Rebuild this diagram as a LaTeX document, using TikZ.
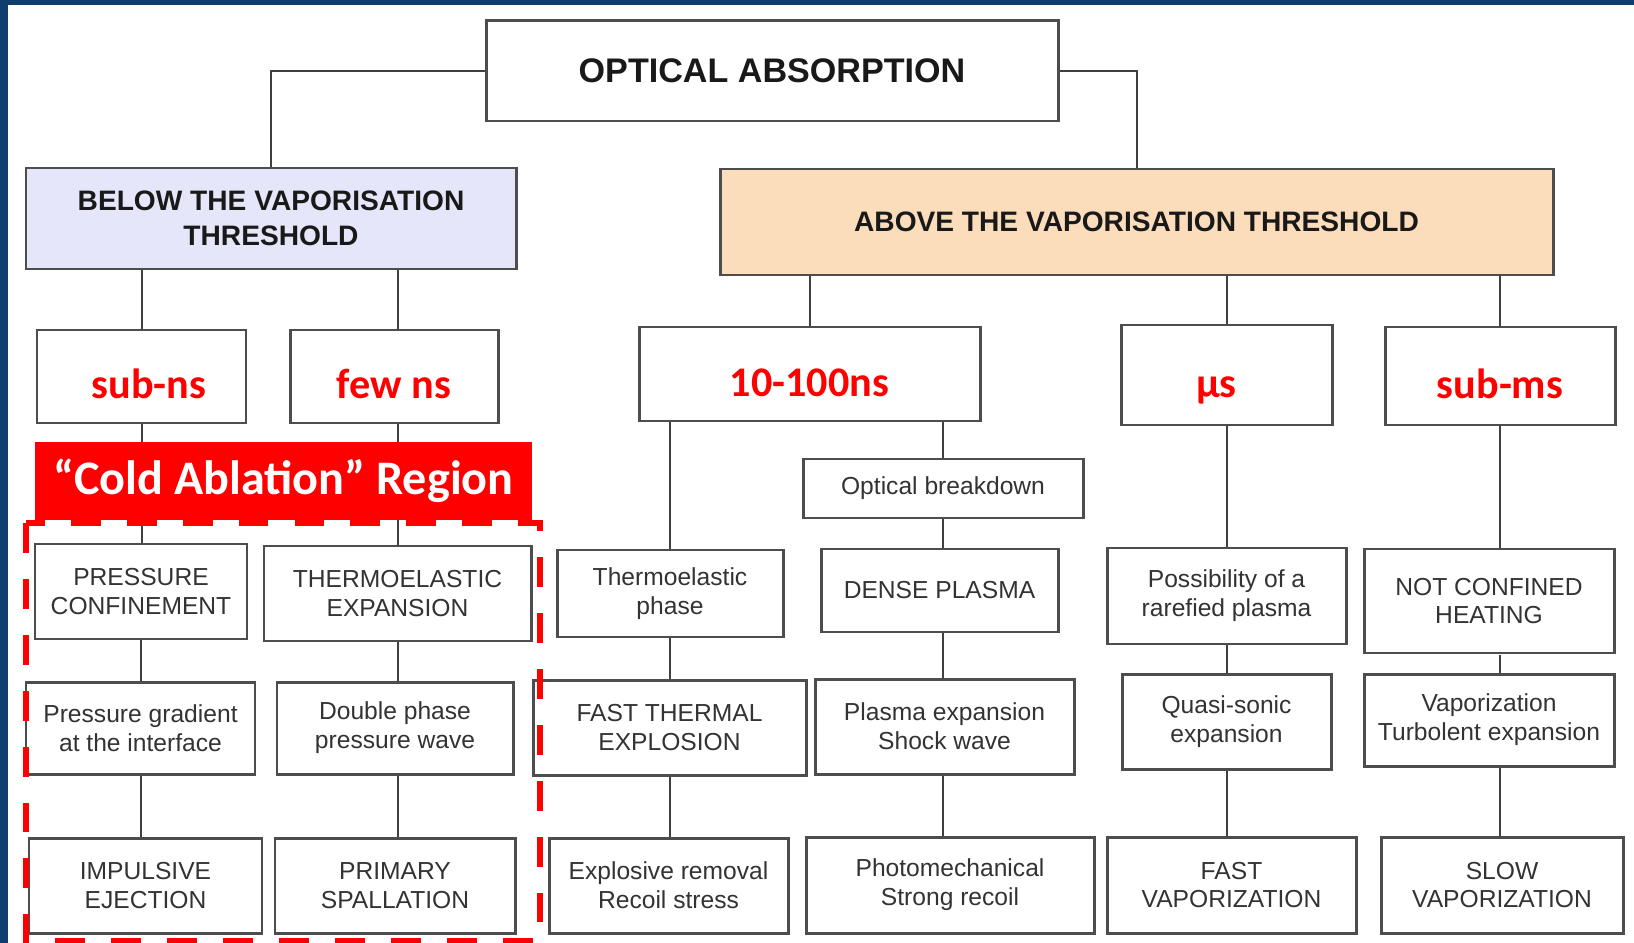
\documentclass[tikz,border=0pt]{standalone}
\usepackage{fontspec}
\setmainfont{Liberation Sans}
\newfontfamily\calib{Carlito}
\definecolor{slideblue}{HTML}{0F3D6E}
\definecolor{boxline}{HTML}{4D4D4D}
\definecolor{boxtext}{HTML}{333333}
\definecolor{belowfill}{HTML}{E6E6FA}
\definecolor{abovefill}{HTML}{FCDDBB}
\begin{document}
\begin{tikzpicture}[x=.01cm,y=-.01cm,
    wh/.style 2 args={minimum width=#1*.01cm,minimum height=#2*.01cm},
    box/.style={draw=boxline,line width=.85pt,fill=white,inner sep=0pt,align=center,
        text=boxtext,font=\fontsize{7}{8.2}\selectfont},
    hdr/.style={box,text=black!90,font=\bfseries\fontsize{8}{9.8}\selectfont},
    tbox/.style={box,text=red,text height=.44cm,text depth=0pt,
        font=\calib\bfseries\fontsize{12}{14}\selectfont},
    link/.style={draw=black!75,line width=.57pt},
    ]
    \useasboundingbox (0,0) rectangle (1634,943);
    \fill[slideblue] (0,0) rectangle (1634,943);
    \fill[white] (8,5) rectangle (1634,943);
    \path
    (772,71) node[hdr,wh={572}{100},font=\bfseries\fontsize{9.7}{11.6}\selectfont] (oa) {OPTICAL ABSORPTION} % <<< hàng 1
    (271,218.5) node[hdr,wh={490}{101},fill=belowfill] (below) {BELOW THE VAPORISATION\\THRESHOLD} % <<< hàng 2
    (1136.5,222) node[hdr,wh={833}{106},fill=abovefill] (above) {ABOVE THE VAPORISATION THRESHOLD}
    (141.5,376.5) node[tbox,wh={209}{93}] (subns) {\hspace*{.15cm}sub-ns} % <<< hàng 3
    (394,376.5) node[tbox,wh={208}{93}] (fewns) {few ns}
    (809.5,374) node[tbox,wh={341}{94}] (tens) {10-100ns}
    (1226.5,375) node[tbox,wh={211}{100}] (mus) {µs\hspace*{.2cm}}
    (1500,376) node[tbox,wh={230}{98}] (subms) {sub-ms}
    (943,488.5) node[box,wh={280}{59}] (ob) {Optical breakdown}
    (141,591.5) node[box,wh={212}{95}] (pc) {PRESSURE\\CONFINEMENT} % <<< hàng 4
    (397.5,593.5) node[box,wh={267}{95}] (te) {THERMOELASTIC\\EXPANSION}
    (670,593.5) node[box,wh={226}{87}] (tp) {Thermoelastic\\phase}
    (939.5,590.5) node[box,wh={237}{83}] (dp) {DENSE PLASMA}
    (1226.5,596) node[box,wh={239}{96}] (rp) {Possibility of a\\rarefied plasma}
    (1489,601) node[box,wh={250}{104}] (nc) {NOT CONFINED\\HEATING}
    (140.5,728) node[box,wh={229}{92}] (pg) {Pressure gradient\\at the interface} % <<< hàng 5
    (395,728) node[box,wh={236}{92}] (dph) {Double phase\\pressure wave}
    (669.5,727.5) node[box,wh={273}{95}] (fte) {FAST THERMAL\\EXPLOSION}
    (944.5,726.5) node[box,wh={259}{95}] (pe) {Plasma expansion\\Shock wave}
    (1226.5,721.5) node[box,wh={209}{95}] (qs) {Quasi-sonic\\expansion}
    (1489,720) node[box,wh={250}{92}] (vt) {Vaporization\\Turbolent expansion}
    (145.5,885.5) node[box,wh={233}{95}] (ie) {IMPULSIVE\\EJECTION} % <<< hàng 6
    (395,885.5) node[box,wh={240}{95}] (ps) {PRIMARY\\SPALLATION}
    (668.5,885.5) node[box,wh={239}{95}] (er) {Explosive removal\\Recoil stress}
    (950,885) node[box,wh={288}{96}] (pm) {Photomechanical\\Strong recoil}
    (1231.5,885) node[box,wh={249}{96}] (fv) {FAST\\VAPORIZATION}
    (1502,885) node[box,wh={242}{96}] (sv) {SLOW\\VAPORIZATION};
    % nối
    \draw[link] (oa.west) -| (below.north);
    \draw[link] (oa.east) -| (above.north);
    \draw[link] (below.south -| subns) -- (subns.north);
    \draw[link] (below.south -| te) -- (fewns.north -| te);
    \draw[link] (above.south -| tens) -- (tens.north);
    \draw[link] (above.south -| mus) -- (mus.north);
    \draw[link] (above.south -| subms) -- (subms.north);
    \draw[link] (subns.south) -- (subns.south |- pc.north);
    \draw[link] (pc.south) -- (pc.south |- pg.north);
    \draw[link] (pg.south) -- (pg.south |- ie.north);
    \draw[link] (fewns.south -| te) -- (te.north);
    \draw[link] (te.south) -- (te.south |- dph.north);
    \draw[link] (dph.south -| te) -- (ps.north -| te);
    \draw[link] (tp.north |- tens.south) -- (tp.north);
    \draw[link] (tp.south) -- (tp.south |- fte.north);
    \draw[link] (fte.south -| tp) -- (er.north -| tp);
    \draw[link] (ob.north |- tens.south) -- (ob.north);
    \draw[link] (ob.south) -- (ob.south |- dp.north);
    \draw[link] (dp.south -| ob) -- (pe.north -| ob);
    \draw[link] (pe.south -| ob) -- (pm.north -| ob);
    \draw[link] (mus.south) -- (mus.south |- rp.north);
    \draw[link] (rp.south) -- (rp.south |- qs.north);
    \draw[link] (qs.south) -- (qs.south |- fv.north);
    \draw[link] (subms.south) -- (subms.south |- nc.north);
    \draw[link] (nc.south -| subms) -- (vt.north -| subms);
    \draw[link] (vt.south -| subms) -- (sv.north -| subms);
    % vùng đỏ
    \draw[red,line width=.06cm,dash pattern=on 8.5pt off 7.4pt] (26,523) rectangle (540,941);
    \path (283.5,481) node[fill=red,text=white,inner sep=0pt,wh={497}{78},
        font=\calib\bfseries\fontsize{13.7}{16}\selectfont] (cold) {“Cold Ablation” Region};
\end{tikzpicture}
\end{document}
